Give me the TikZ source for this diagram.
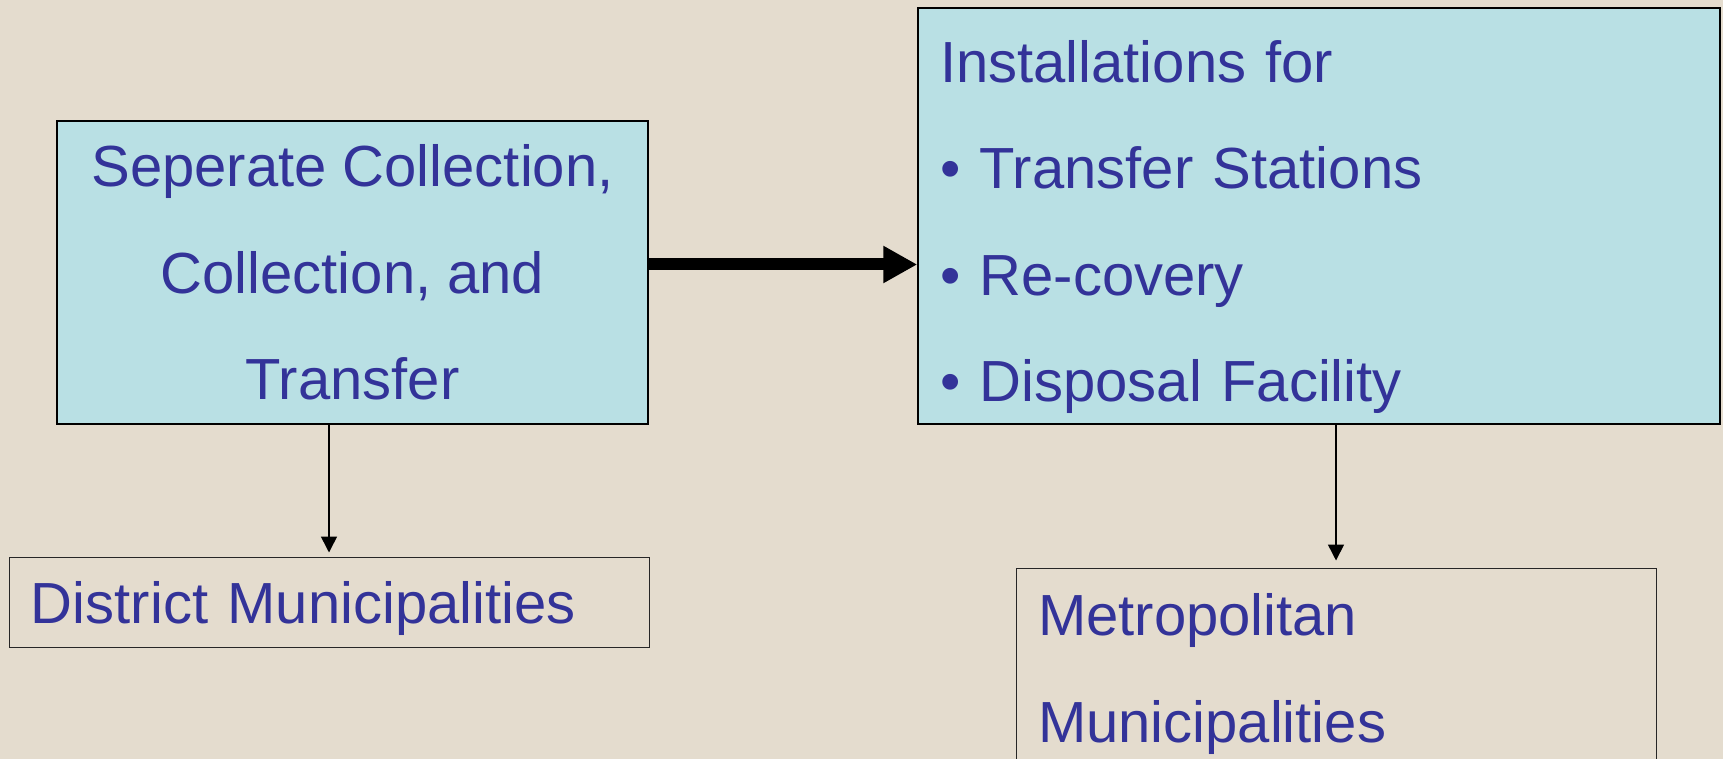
\documentclass[tikz,border=0pt]{standalone}
\usepackage{fontspec}
\setmainfont{Liberation Sans}
\usetikzlibrary{arrows.meta}

\definecolor{paper}{RGB}{228,220,206}
\definecolor{boxfill}{RGB}{185,224,228}
\definecolor{txtblue}{RGB}{51,51,153}

\begin{document}
\begin{tikzpicture}[->,>={Triangle[length=8pt,width=8pt]},shorten >=2pt,
                    x=0.5pt,y=-0.5pt,line width=0.8pt,
                    font=\fontsize{29}{53.3}\selectfont]
  \tikzstyle{every node}=[text=txtblue,inner sep=0pt]
  \tikzstyle{bluebox}=[draw=black,fill=boxfill,line width=0.75pt]
  \tikzstyle{plainbox}=[draw=black!85,line width=0.5pt,inner xsep=11pt,
                        text width=298pt,align=left]
  \tikzstyle{bigarrow}=[line width=6pt,shorten >=0pt,
                        -{Triangle[length=17pt,width=17.5pt]}]

  \fill[paper,-] (0,0) rectangle (1723,759);
  \useasboundingbox (0,0) rectangle (1723,759);

  \node[bluebox,minimum width=295.5pt,minimum height=151.5pt,align=center]
        (coll) at (352.5,272.5) {Seperate Collection,\\Collection, and\\Transfer};
  \node[bluebox,minimum width=401pt,minimum height=208pt,inner xsep=11pt,
        text width=379pt,align=left]
        (inst) at (1319,216) {\rule{0pt}{26pt}Installations for\\
                              • Transfer Stations\\
                              • Re-covery\\
                              \smash{• Disposal Facility}};
  \node[plainbox,minimum width=320pt,minimum height=45pt,text depth=0pt]
        (dist) at (329,602) {District Municipalities};
  \node[plainbox,minimum width=320pt,minimum height=106pt]
        (metro) at (1336,674) {Metropolitan\\Municipalities};

  \path ([yshift=4pt]coll.east) edge[bigarrow] ([yshift=4pt]coll.east -| inst.west)
        (dist.north |- coll.south) edge (dist.north)
        (metro.north |- inst.south) edge[shorten >=3.5pt] (metro.north);
\end{tikzpicture}
\end{document}
